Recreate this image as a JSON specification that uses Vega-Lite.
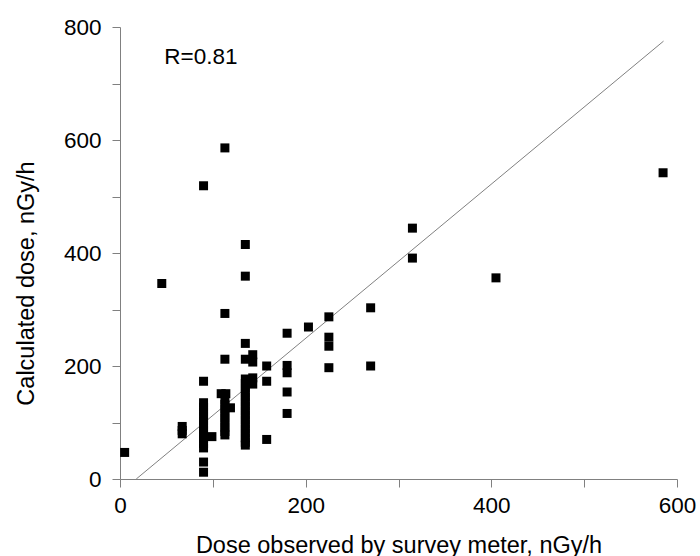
{
  "$schema": "https://vega.github.io/schema/vega-lite/v6.json",
  "width": 557,
  "height": 452,
  "autosize": "none",
  "padding": {"left": 120, "top": 27, "right": 23, "bottom": 77},
  "background": "white",
  "config": {"view": {"stroke": null}, "font": "Liberation Sans"},
  "datasets": {
    "points": [
      {"observed": 5, "calculated": 47},
      {"observed": 45, "calculated": 346},
      {"observed": 67, "calculated": 93},
      {"observed": 67, "calculated": 86},
      {"observed": 67, "calculated": 80},
      {"observed": 90, "calculated": 519},
      {"observed": 90, "calculated": 173},
      {"observed": 90, "calculated": 135},
      {"observed": 90, "calculated": 127},
      {"observed": 90, "calculated": 119},
      {"observed": 90, "calculated": 111},
      {"observed": 90, "calculated": 103},
      {"observed": 90, "calculated": 95},
      {"observed": 90, "calculated": 87},
      {"observed": 90, "calculated": 79},
      {"observed": 90, "calculated": 71},
      {"observed": 90, "calculated": 63},
      {"observed": 90, "calculated": 55},
      {"observed": 90, "calculated": 30},
      {"observed": 90, "calculated": 12},
      {"observed": 99, "calculated": 75},
      {"observed": 113, "calculated": 586},
      {"observed": 113, "calculated": 293},
      {"observed": 113, "calculated": 212},
      {"observed": 109, "calculated": 151},
      {"observed": 114, "calculated": 151},
      {"observed": 113, "calculated": 140},
      {"observed": 113, "calculated": 132},
      {"observed": 113, "calculated": 124},
      {"observed": 113, "calculated": 116},
      {"observed": 113, "calculated": 108},
      {"observed": 113, "calculated": 100},
      {"observed": 113, "calculated": 92},
      {"observed": 113, "calculated": 84},
      {"observed": 113, "calculated": 78},
      {"observed": 119, "calculated": 126},
      {"observed": 135, "calculated": 415},
      {"observed": 135, "calculated": 359},
      {"observed": 135, "calculated": 240},
      {"observed": 135, "calculated": 212},
      {"observed": 135, "calculated": 177},
      {"observed": 135, "calculated": 169},
      {"observed": 135, "calculated": 161},
      {"observed": 135, "calculated": 153},
      {"observed": 135, "calculated": 145},
      {"observed": 135, "calculated": 137},
      {"observed": 135, "calculated": 129},
      {"observed": 135, "calculated": 121},
      {"observed": 135, "calculated": 113},
      {"observed": 135, "calculated": 105},
      {"observed": 135, "calculated": 97},
      {"observed": 135, "calculated": 89},
      {"observed": 135, "calculated": 81},
      {"observed": 135, "calculated": 73},
      {"observed": 135, "calculated": 65},
      {"observed": 135, "calculated": 60},
      {"observed": 143, "calculated": 220},
      {"observed": 143, "calculated": 207},
      {"observed": 143, "calculated": 179},
      {"observed": 143, "calculated": 168},
      {"observed": 158, "calculated": 200},
      {"observed": 158, "calculated": 173},
      {"observed": 158, "calculated": 70},
      {"observed": 180, "calculated": 258},
      {"observed": 180, "calculated": 201},
      {"observed": 180, "calculated": 188},
      {"observed": 180, "calculated": 154},
      {"observed": 180, "calculated": 116},
      {"observed": 203, "calculated": 269},
      {"observed": 225, "calculated": 287},
      {"observed": 225, "calculated": 251},
      {"observed": 225, "calculated": 235},
      {"observed": 225, "calculated": 197},
      {"observed": 270, "calculated": 303},
      {"observed": 270, "calculated": 200},
      {"observed": 315, "calculated": 444},
      {"observed": 315, "calculated": 391},
      {"observed": 405, "calculated": 356},
      {"observed": 585, "calculated": 542}
    ],
    "fit": [
      {"observed": 17.5, "calculated": 0},
      {"observed": 585.5, "calculated": 775}
    ],
    "note": [
      {"observed": 47.7, "calculated": 734, "text": "R=0.81"}
    ]
  },
  "layer": [
    {
      "data": {"name": "fit"},
      "mark": {"type": "line", "color": "#808080", "strokeWidth": 1},
      "encoding": {
        "x": {"field": "observed", "type": "quantitative"},
        "y": {"field": "calculated", "type": "quantitative"}
      }
    },
    {
      "data": {"name": "points"},
      "mark": {"type": "square", "size": 81, "color": "black", "opacity": 1},
      "encoding": {
        "x": {
          "field": "observed",
          "type": "quantitative",
          "scale": {"domain": [0, 600], "nice": false, "zero": false},
          "axis": {
            "values": [0, 100, 200, 300, 400, 500, 600],
            "labelExpr": "datum.value % 200 === 0 ? datum.label : ''",
            "grid": false,
            "domainColor": "#808080",
            "tickColor": "#808080",
            "tickSize": 8,
            "labelFontSize": 22.5,
            "labelColor": "black",
            "labelPadding": 7,
            "labelFlush": false,
            "labelOverlap": false,
            "title": "Dose observed by survey meter, nGy/h",
            "titleFontSize": 23.5,
            "titleFontWeight": "normal",
            "titleColor": "black",
            "titleY": 73,
            "titleBaseline": "alphabetic"
          }
        },
        "y": {
          "field": "calculated",
          "type": "quantitative",
          "scale": {"domain": [0, 800], "nice": false, "zero": false},
          "axis": {
            "values": [0, 100, 200, 300, 400, 500, 600, 700, 800],
            "labelExpr": "datum.value % 200 === 0 ? datum.label : ''",
            "grid": false,
            "domainColor": "#808080",
            "tickColor": "#808080",
            "tickSize": 8,
            "labelFontSize": 22.5,
            "labelColor": "black",
            "labelPadding": 11,
            "labelFlush": false,
            "labelOverlap": false,
            "title": "Calculated dose, nGy/h",
            "titleFontSize": 23.5,
            "titleFontWeight": "normal",
            "titleColor": "black",
            "titleX": -87,
            "titleY": 256,
            "titleAlign": "center",
            "titleBaseline": "alphabetic"
          }
        }
      }
    },
    {
      "data": {"name": "note"},
      "mark": {"type": "text", "align": "left", "baseline": "alphabetic", "fontSize": 22.5, "color": "black"},
      "encoding": {
        "x": {"field": "observed", "type": "quantitative"},
        "y": {"field": "calculated", "type": "quantitative"},
        "text": {"field": "text"}
      }
    }
  ]
}
